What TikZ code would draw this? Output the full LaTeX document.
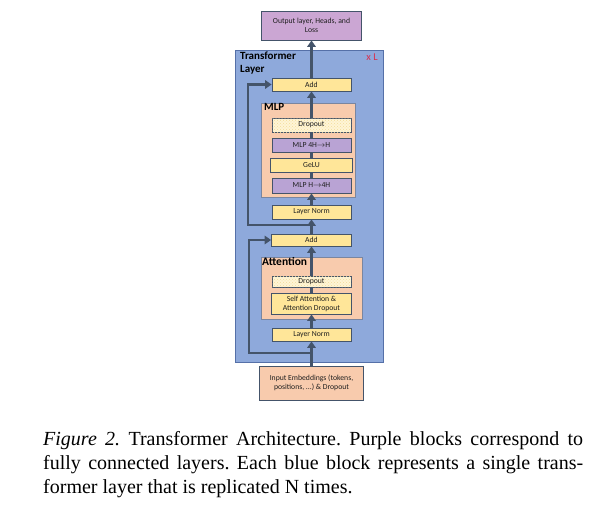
\documentclass[tikz,border=0pt]{standalone}
\usepackage{fontspec}
\setmainfont{Liberation Serif}
\newfontfamily\blockfont{Carlito}
\usetikzlibrary{arrows.meta,patterns}
\frenchspacing

\definecolor{slate}{HTML}{44546A}
\definecolor{layerblue}{HTML}{8EA9DB}
\definecolor{layeredge}{HTML}{5570A8}
\definecolor{groupsalmon}{HTML}{F8CBAD}
\definecolor{groupedge}{HTML}{7A86A0}
\definecolor{normyellow}{HTML}{FFE699}
\definecolor{fcpurple}{HTML}{B9A3D4}
\definecolor{headpurple}{HTML}{CBA6D3}
\definecolor{dropcream}{HTML}{FFF5D6}
\definecolor{dotyellow}{HTML}{F2DC9A}
\definecolor{repred}{HTML}{D9304F}
\definecolor{textgray}{HTML}{1F1F1F}

\tikzset{
  block/.style={draw=slate, line width=0.8pt, minimum width=79pt, minimum height=14pt,
    inner sep=0pt, align=center, text=textgray, font=\blockfont\fontsize{7.7}{9}\selectfont},
  normbox/.style={block, fill=normyellow},
  fcbox/.style={block, fill=fcpurple},
  dropbox/.style={block, fill=dropcream, postaction={pattern=crosshatch dots, pattern color=dotyellow}},
  groupbox/.style={draw=groupedge, line width=0.8pt, fill=groupsalmon, inner sep=0pt},
  grouplabel/.style={anchor=north west, inner sep=0pt, text=black, font=\blockfont\bfseries\fontsize{11}{13}\selectfont},
  flow/.style={draw=slate, line width=2.6pt, -{Triangle[length=6.5pt,width=8.5pt]}},
  link/.style={draw=slate, line width=2.6pt},
  captionline/.style={anchor=base west, inner sep=0pt, font=\fontsize{20}{24}\selectfont}
}

\begin{document}
\begin{tikzpicture}[x=1pt, y=-1pt]
  \useasboundingbox[fill=white] (0,0) rectangle (600,506);
  %%%%%%%%%%%%%%%%%%%%%%%% Capa transformer %%%%%%%%%%%%%%%%%%%%%%%%%%%%%%%%%%%
  \node[draw=layeredge, line width=0.8pt, fill=layerblue, minimum width=148pt, minimum height=312pt, inner sep=0pt] (layer) at (309,206) {};
  \node[grouplabel, align=left] (layertxt) at (240,52) {Transformer\\Layer};
  \node[anchor=north east, inner sep=0pt, text=repred, font=\blockfont\fontsize{10.5}{12}\selectfont] (times) at (378,54) {x L};
  %%%%%%%%%%%%%%%%%%%%%%%% Grupos MLP y Attention %%%%%%%%%%%%%%%%%%%%%%%%%%%%%
  \node[groupbox, minimum width=94pt, minimum height=94pt] (mlpgrp) at (308,150) {};
  \node[grouplabel] (mlptxt) at (264,103.5) {MLP};
  \node[groupbox, minimum width=101pt, minimum height=62pt] (attgrp) at (311.5,288) {};
  \node[grouplabel, font=\blockfont\bfseries\fontsize{11.5}{13}\selectfont] (atttxt) at (262,257.5) {Attention};
  %%%%%%%%%%%%%%%%%%%%%%%% Bloques %%%%%%%%%%%%%%%%%%%%%%%%%%%%%%%%%%%%%%%%%%%
  \node[block, fill=headpurple, minimum width=100pt, minimum height=29pt] (out) at (311.5,25.5) {Output layer, Heads, and\\Loss};
  \node[normbox, minimum height=13pt] (add2) at (311.5,84.5) {Add};
  \node[dropbox] (drop2) at (311.5,125) {Dropout};
  \node[fcbox] (fc2) at (311.5,145) {MLP 4H$\rightarrow$H};
  \node[normbox, minimum width=82pt] (gelu) at (311.5,165) {GeLU};
  \node[fcbox, minimum height=15pt] (fc1) at (311.5,185.5) {MLP H$\rightarrow$4H};
  \node[normbox] (ln2) at (311.5,212) {Layer Norm};
  \node[normbox, minimum width=80pt, minimum height=12pt] (add1) at (311.5,240) {Add};
  \node[dropbox, minimum height=11pt] (drop1) at (311.5,281.5) {Dropout};
  \node[normbox, minimum width=80pt, minimum height=21pt] (attn) at (311.5,303.5) {Self Attention \&\\Attention Dropout};
  \node[normbox, minimum height=13pt] (ln1) at (311.5,334.5) {Layer Norm};
  \node[block, fill=groupsalmon, minimum width=104pt, minimum height=34pt] (inp) at (311.5,383) {Input Embeddings (tokens,\\positions, ...) \& Dropout};
  %%%%%%%%%%%%%%%%%%%%%%%% Flujo principal %%%%%%%%%%%%%%%%%%%%%%%%%%%%%%%%%%%
  \draw[flow] (inp.north) -- (ln1.south);
  \draw[flow] (ln1.north) -- (attn.south);
  \draw[link] (attn.north) -- (drop1.south);
  \draw[flow] (drop1.north) -- (add1.south);
  \draw[flow] (add1.north) -- (ln2.south);
  \draw[flow] (ln2.north) -- (fc1.south);
  \draw[link] (fc1.north) -- (gelu.south);
  \draw[link] (gelu.north) -- (fc2.south);
  \draw[link] (fc2.north) -- (drop2.south);
  \draw[flow] (drop2.north) -- (add2.south);
  \draw[flow] (add2.north) -- (out.south);
  %%%%%%%%%%%%%%%%%%%%%%%% Conexiones residuales %%%%%%%%%%%%%%%%%%%%%%%%%%%%%
  \coordinate (res1) at (311.5,353);
  \coordinate (res1k) at (249,353);
  \coordinate (res2) at (311.5,225);
  \coordinate (res2k) at (248,225);
  \draw[flow] (res1) -- (res1k) |- (add1.west);
  \draw[flow] (res2) -- (res2k) |- (add2.west);
  %%%%%%%%%%%%%%%%%%%%%%%% Leyenda %%%%%%%%%%%%%%%%%%%%%%%%%%%%%%%%%%%%%%%%%%%
  \node[captionline] (cap1) at (43,445) {\makebox[540pt][s]{\textit{Figure 2.} Transformer Architecture. Purple blocks correspond to}};
  \node[captionline] (cap2) at (43,469) {\makebox[540pt][s]{fully connected layers. Each blue block represents a single trans-}};
  \node[captionline] (cap3) at (43,493) {former layer that is replicated N times.};
\end{tikzpicture}
\end{document}
